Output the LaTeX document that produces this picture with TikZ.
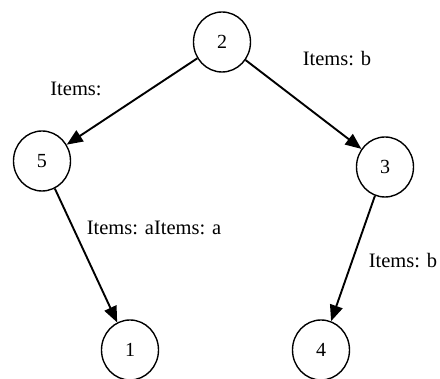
\documentclass[tikz,border=0pt]{standalone}
\usepackage{fontspec}
\setmainfont{Liberation Serif}
\usetikzlibrary{arrows.meta,shapes.geometric}
\begin{document}
\begin{tikzpicture}[x=1pt,y=1pt,
  vnode/.style={draw,ellipse,line width=1.4pt,minimum width=57pt,minimum height=60pt,inner sep=0pt,font=\fontsize{20}{23}\selectfont},
  elabel/.style={font=\fontsize{20.5}{23}\selectfont,inner sep=0pt},
  edge/.style={line width=1.9pt,-{Triangle[length=16pt,width=13pt]}}]
\useasboundingbox (0,0) rectangle (440,379);
\node[vnode] (n2) at (222,337) {2};
\node[vnode] (n5) at (42,218) {5};
\node[vnode] (n3) at (385,212) {3};
\node[vnode] (n1) at (130,29) {1};
\node[vnode] (n4) at (321,29) {4};
\draw[edge] (n2) -- (n5);
\draw[edge] (n2) -- (n3);
\draw[edge] (n5) -- (n1);
\draw[edge] (n3) -- (n4);
\node[elabel] (l1) at (76,290) {Items:};
\node[elabel] (l2) at (337,320) {Items: b};
\node[elabel] (l3) at (154,151) {Items: aItems: a};
\node[elabel] (l4) at (403,118) {Items: b};
\end{tikzpicture}
\end{document}
